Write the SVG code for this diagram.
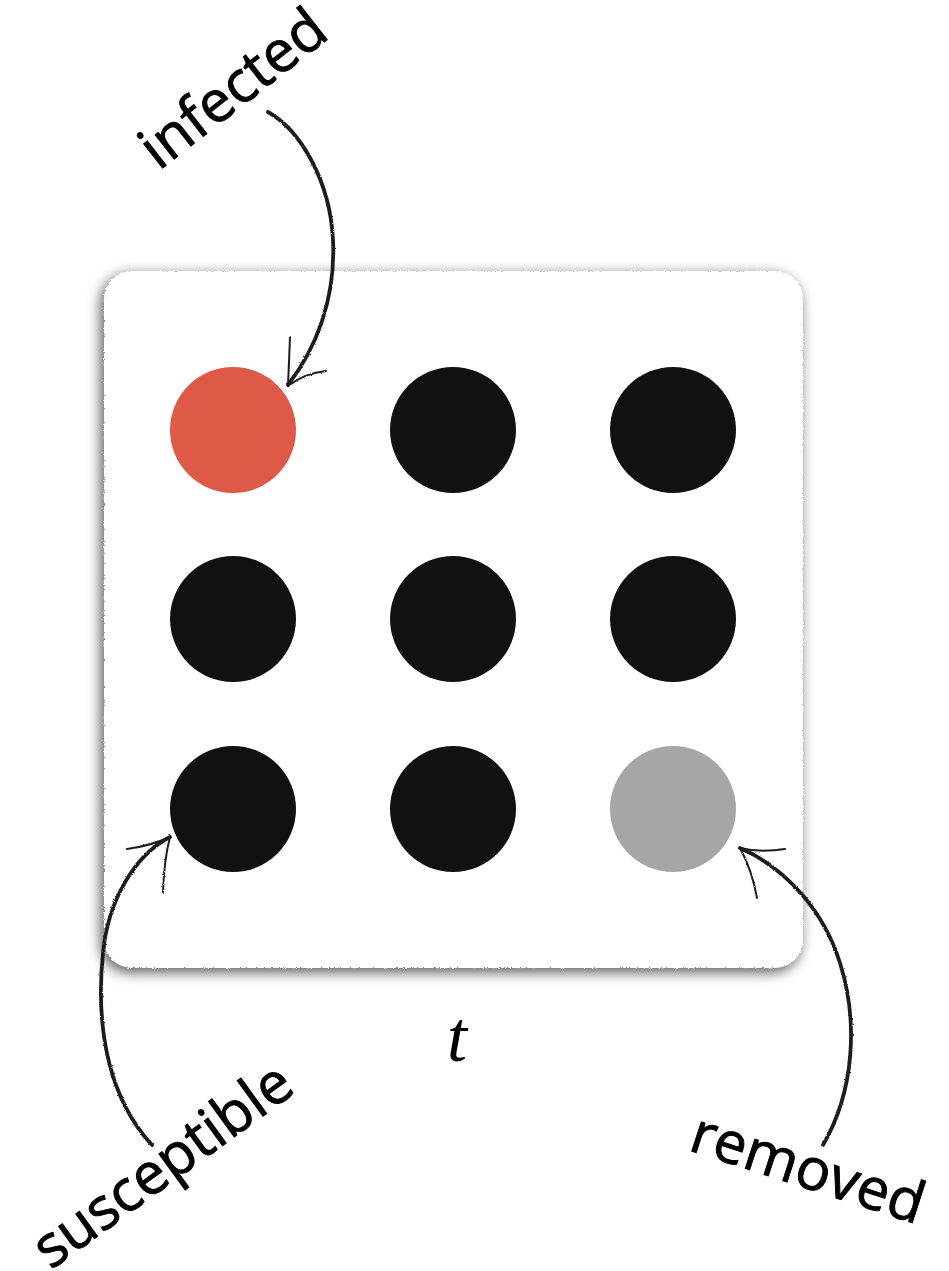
<svg xmlns="http://www.w3.org/2000/svg" width="949" height="1271" viewBox="0 0 949 1271">
<defs>
<filter id="shadow" x="-10%" y="-10%" width="120%" height="120%">
<feTurbulence type="fractalNoise" baseFrequency="0.7" numOctaves="2" seed="5" result="n"/>
<feDisplacementMap in="SourceGraphic" in2="n" scale="3" xChannelSelector="R" yChannelSelector="G" result="d"/>
<feGaussianBlur in="SourceAlpha" stdDeviation="7"/>
<feColorMatrix type="matrix" values="0 0 0 0 0.2  0 0 0 0 0.2  0 0 0 0 0.2  0 0 0 1.3 0"/>
<feOffset dx="-3" dy="4" result="b"/>
<feMerge><feMergeNode in="b"/><feMergeNode in="d"/></feMerge>
</filter>
<filter id="rough" x="-5%" y="-5%" width="110%" height="110%">
<feTurbulence type="fractalNoise" baseFrequency="0.9" numOctaves="2" seed="3"/>
<feDisplacementMap in="SourceGraphic" scale="2.2" xChannelSelector="R" yChannelSelector="G"/>
</filter>
<style>
.lbl{font-family:"Open Sans","Noto Sans","DejaVu Sans",sans-serif;font-size:58px;fill:#000;stroke:#000;stroke-width:0.9;text-anchor:middle}
.arc{fill:none;stroke:#1e1e1e;stroke-width:3.8;stroke-linecap:round}
.barb{fill:none;stroke:#1e1e1e;stroke-width:2;stroke-linecap:round}
.s{fill:#111111}
.i{fill:#DF5949}
.r{fill:#A6A6A6}
</style>
</defs>
<rect width="949" height="1271" fill="#ffffff"/>
<g id="panel">
<rect x="104" y="271" width="699" height="697" rx="28" ry="28" fill="#ffffff" filter="url(#shadow)"/>
</g>
<g id="nodes">
<circle id="n1" class="i" cx="233" cy="430" r="63"/>
<circle id="n2" class="s" cx="453" cy="430" r="63"/>
<circle id="n3" class="s" cx="673" cy="430" r="63"/>
<circle id="n4" class="s" cx="233" cy="619" r="63"/>
<circle id="n5" class="s" cx="453" cy="619" r="63"/>
<circle id="n6" class="s" cx="673" cy="619" r="63"/>
<circle id="n7" class="s" cx="233" cy="809" r="63"/>
<circle id="n8" class="s" cx="453" cy="809" r="63"/>
<circle id="n9" class="r" cx="673" cy="809" r="63"/>
</g>
<g id="connectors" filter="url(#rough)">
<path class="arc" d="M268,112 C300,130 330,180 333,240 C336,300 315,350 288,385"/>
<path class="barb" d="M288,386 Q289,360 290,337"/>
<path class="barb" d="M288,386 Q305,373 326,371"/>
<path class="arc" d="M152,1145 C110,1100 95,1030 103,953 C108,900 135,855 170,837"/>
<path class="barb" d="M170,837 Q150,846 127,849"/>
<path class="barb" d="M170,837 Q164,860 163,892"/>
<path class="arc" d="M823,1145 C855,1090 858,1020 840,963 C825,915 790,870 740,848"/>
<path class="barb" d="M740,848 Q760,853 785,849"/>
<path class="barb" d="M740,848 Q752,870 757,898"/>
</g>
<g id="labels">
<text id="lbl-infected" class="lbl" transform="translate(245,104) rotate(-38)">infected</text>
<text id="lbl-susceptible" class="lbl" transform="translate(174,1181) rotate(-36)">susceptible</text>
<text id="lbl-removed" class="lbl" transform="translate(802,1187) rotate(18)">removed</text>
<text id="lbl-t" x="457" y="1061" font-family="'Liberation Serif',serif" font-style="italic" font-size="72" text-anchor="middle">t</text>
</g>
</svg>
